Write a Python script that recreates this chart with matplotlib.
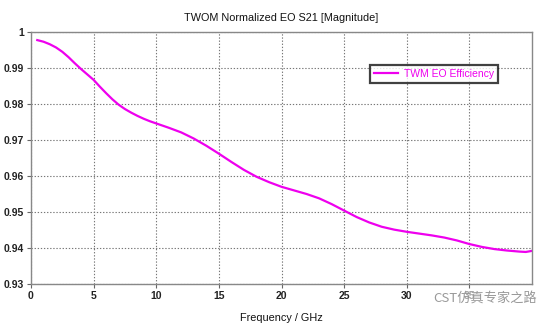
import matplotlib.pyplot as plt

plt.rcParams['font.family'] = ['Liberation Sans', 'DejaVu Sans']

# values
freq = [0.5, 1, 1.5, 2, 2.5, 3, 3.5, 4, 4.5, 5, 5.5, 6, 6.5, 7, 7.5, 8, 8.5, 9, 9.5, 10,
        11, 12, 13, 14, 15, 16, 17, 18, 19, 20, 21, 22, 23, 24, 25, 26, 27, 28, 29,
        30, 31, 32, 33, 34, 35, 36, 37, 38, 39, 39.5, 40]
eff = [0.99775, 0.9973, 0.9966, 0.9957, 0.9945, 0.9930, 0.9913, 0.9897, 0.9882, 0.9867,
       0.9848, 0.9830, 0.9813, 0.9798, 0.9786, 0.9776, 0.9767, 0.9759, 0.9752, 0.9746,
       0.9734, 0.9721, 0.9704, 0.9684, 0.9662, 0.9639, 0.9617, 0.9598, 0.9583, 0.9570,
       0.9560, 0.9550, 0.9538, 0.9522, 0.9504, 0.9486, 0.9471, 0.9459, 0.9451, 0.9445,
       0.9440, 0.9435, 0.9429, 0.9421, 0.9411, 0.9403, 0.9397, 0.9393, 0.9390, 0.9389,
       0.9392]

xticks = [0, 5, 10, 15, 20, 25, 30, 35]
yticks = [0.93, 0.94, 0.95, 0.96, 0.97, 0.98, 0.99, 1.0]
ytick_labels = ["0.93", "0.94", "0.95", "0.96", "0.97", "0.98", "0.99", "1"]

magenta = '#ee00ee'

fig = plt.figure(figsize=(5.55, 3.23), dpi=100)
ax = fig.add_axes([31 / 555, 1 - 284 / 323, 501 / 555, 252 / 323])

ax.plot(freq, eff, color=magenta, lw=1.6, label='TWM EO Efficiency')

ax.set_xlim(0, 40)
ax.set_ylim(0.93, 1.0)
ax.set_xticks(xticks)
ax.set_yticks(yticks)
ax.set_yticklabels(ytick_labels)
ax.tick_params(labelsize=7.5, length=3, width=0.8, color='#666666', pad=2)
for lbl in ax.get_xticklabels() + ax.get_yticklabels():
    lbl.set_fontweight('bold')
    lbl.set_color('#222222')

ax.grid(True, linestyle=(0, (1.2, 1.6)), color='#777777', lw=0.8)
for s in ax.spines.values():
    s.set_color('#888888')
    s.set_linewidth(1.0)

ax.set_title('TWOM Normalized EO S21 [Magnitude]', fontsize=7.8, pad=8, color='#111111')
ax.set_xlabel('Frequency / GHz', fontsize=7.8, labelpad=9, color='#111111')

leg = ax.legend(loc='center', bbox_to_anchor=(0.804, 0.833), fontsize=7.5,
                frameon=True, fancybox=False, handlelength=2.3, borderpad=0.35,
                handletextpad=0.6, labelcolor=magenta)
leg.get_frame().set_edgecolor('#111111')
leg.get_frame().set_linewidth(1.6)

# watermark overlay
fig.text(433 / 555, 1 - 298 / 323, 'CST仿真专家之路', fontsize=9.5, color='#999999',
         family=['Noto Sans CJK SC', 'DejaVu Sans'], va='center', ha='left',
         bbox=dict(boxstyle='square,pad=0.15', fc='white', ec='none', alpha=0.6))

fig.savefig('out.png', dpi=100)
